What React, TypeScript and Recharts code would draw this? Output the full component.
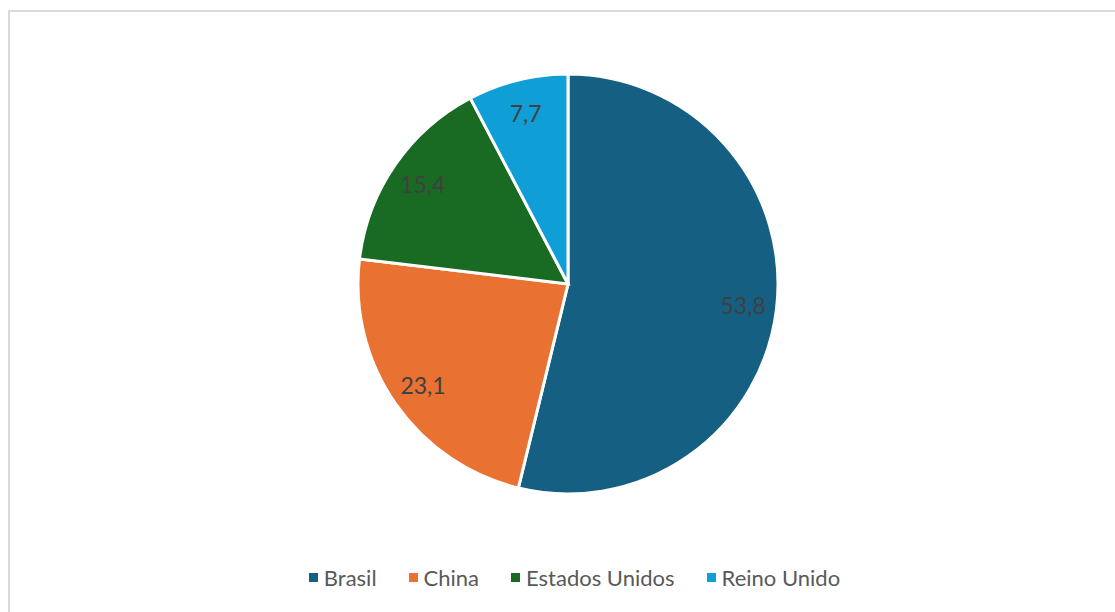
import { Cell, Legend, Pie, PieChart } from 'recharts';

const paises = ['Brasil', 'China', 'Estados Unidos', 'Reino Unido'];
const percentuais = [53.8, 23.1, 15.4, 7.7];
const cores = ['#156082', '#E97132', '#196B24', '#0F9ED5'];

const dados = paises.map((nome, i) => ({ nome, valor: percentuais[i] }));

const RAD = Math.PI / 180;
const fonte = 'Lato, "Noto Sans", sans-serif';

const rotulo = (props: any) => {
  const { cx, cy, midAngle, outerRadius, value } = props;
  const r = outerRadius * 0.84;
  const x = cx + r * Math.cos(-midAngle * RAD);
  const y = cy + r * Math.sin(-midAngle * RAD);
  return (
    <text
      x={x}
      y={y}
      fill="#404040"
      fontSize={23}
      fontFamily={fonte}
      textAnchor="middle"
      dominantBaseline="central"
    >
      {String(value).replace('.', ',')}
    </text>
  );
};

const legenda = (props: any) => {
  const { payload } = props;
  return (
    <div style={{ display: 'flex', justifyContent: 'center', paddingLeft: 56 }}>
      {payload.map((item: any) => (
        <div key={item.value} style={{ display: 'flex', alignItems: 'center', marginRight: 32 }}>
          <span style={{ width: 9, height: 9, background: item.color, marginRight: 6, display: 'inline-block' }} />
          <span style={{ fontFamily: fonte, fontSize: 22, color: '#595959' }}>{item.value}</span>
        </div>
      ))}
    </div>
  );
};

function App() {
  return (
    <div
      style={{
        position: 'absolute',
        left: 8,
        top: 10,
        width: 1105,
        height: 602,
        borderTop: '2px solid #d9d9d9',
        borderLeft: '2px solid #d9d9d9',
        background: '#fff'
      }}
    >
      <PieChart width={1105} height={600}>
        <Pie
          data={dados}
          dataKey="valor"
          nameKey="nome"
          cx={553}
          cy={267}
          outerRadius={210}
          startAngle={90}
          endAngle={-270}
          stroke="#ffffff"
          strokeWidth={3}
          label={rotulo}
          labelLine={false}
          isAnimationActive={false}
        >
          {dados.map((d, i) => (
            <Cell key={d.nome} fill={cores[i]} />
          ))}
        </Pie>
        <Legend content={legenda} wrapperStyle={{ top: 552, left: 0, width: 1105 }} />
      </PieChart>
    </div>
  );
}

export default App;
